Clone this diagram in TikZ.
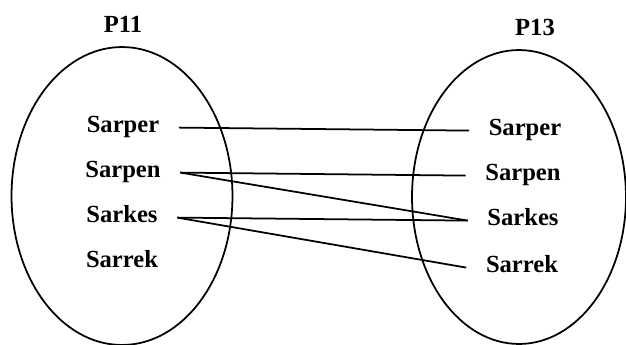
\documentclass[tikz,border=0pt]{standalone}
\usepackage{fontspec}
\setmainfont{Liberation Serif}
\usepackage{tikz}
\usetikzlibrary{shapes.geometric}

\begin{document}
\begin{tikzpicture}[x=0.02cm, y=-0.02cm, line width=1pt,
    font=\fontsize{14}{16}\selectfont\bfseries,
    set/.style={draw, ellipse, inner sep=0pt},
    item/.style={anchor=base, text height=0.7em, text depth=0.2em, inner xsep=1pt, outer xsep=0.36cm}]
  \useasboundingbox (0,0) rectangle (626,345);
  % the two sets
  \node[set, minimum width=4.42cm, minimum height=5.96cm] (pa) at (122,196) {};
  \node[set, minimum width=4.28cm, minimum height=5.88cm] (pb) at (519,197) {};
  \node[anchor=base] (pal) at (123,32) {P11};
  \node[anchor=base] (pbl) at (535,35) {P13};
  % left members
  \node[item] (a1) at (123,132) {Sarper};
  \node[item] (a2) at (123,177) {Sarpen};
  \node[item] (a3) at (122,222) {Sarkes};
  \node[item] (a4) at (122,267) {Sarrek};
  % right members
  \node[item] (b1) at (525,135) {Sarper};
  \node[item] (b2) at (523,180) {Sarpen};
  \node[item] (b3) at (523,225) {Sarkes};
  \node[item] (b4) at (522,272) {Sarrek};
  % links
  \draw (a1.east) -- (b1.west);
  \draw (a2.east) -- (b2.west);
  \draw (a2.east) -- (b3.west);
  \draw (a3.east) -- (b3.west);
  \draw (a3.east) -- (b4.west);
\end{tikzpicture}
\end{document}
